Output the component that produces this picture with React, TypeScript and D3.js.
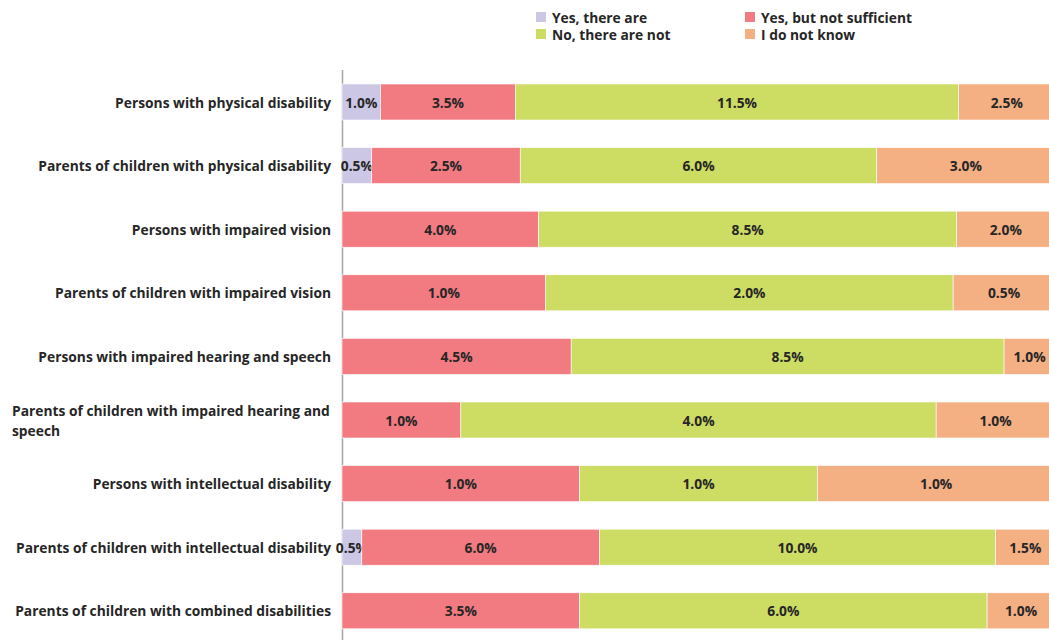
import React, { useEffect, useRef } from "react";
import * as d3 from "d3";

const categories = [
  "Persons with physical disability",
  "Parents of children with physical disability",
  "Persons with impaired vision",
  "Parents of children with impaired vision",
  "Persons with impaired hearing and speech",
  "Parents of children with impaired hearing and speech",
  "Persons with intellectual disability",
  "Parents of children with intellectual disability",
  "Parents of children with combined disabilities",
];

const seriesNames = ["Yes, there are", "Yes, but not sufficient", "No, there are not", "I do not know"];
const colors = ["#cbc7e4", "#f27b82", "#cddc63", "#f4b083"];

const yesThereAre = [1.0, 0.5, 0, 0, 0, 0, 0, 0.5, 0];
const yesNotSufficient = [3.5, 2.5, 4.0, 1.0, 4.5, 1.0, 1.0, 6.0, 3.5];
const noThereAreNot = [11.5, 6.0, 8.5, 2.0, 8.5, 4.0, 1.0, 10.0, 6.0];
const doNotKnow = [2.5, 3.0, 2.0, 0.5, 1.0, 1.0, 1.0, 1.5, 1.0];

const W = 1049;
const H = 640;
const FONT = "'Open Sans', sans-serif";
const FS = 13.8;

export default function App() {
  const ref = useRef<SVGSVGElement>(null);

  useEffect(() => {
    const svg = d3.select(ref.current);
    svg.selectAll("*").remove();

    const series = [yesThereAre, yesNotSufficient, noThereAreNot, doNotKnow];
    const rows = categories.map((c, i) => {
      const vals = series.map((s) => s[i]);
      const total = d3.sum(vals);
      return { c, vals, total };
    });

    const x = d3.scaleLinear().domain([0, 1]).range([342, 1055]);
    const y = d3.scaleBand().domain(categories).range([70.2, 642.6]).paddingInner(0.434).paddingOuter(0.217);

    // axis line
    svg.append("line").attr("x1", 342.5).attr("x2", 342.5).attr("y1", 70).attr("y2", H)
      .attr("stroke", "#a6a6a6").attr("stroke-width", 1.5);

    const g = svg.append("g");
    rows.forEach((r) => {
      let cum = 0;
      r.vals.forEach((v, k) => {
        if (v <= 0) return;
        const x0 = x(cum / r.total);
        cum += v;
        const x1 = x(cum / r.total);
        g.append("rect")
          .attr("x", x0).attr("y", y(r.c)!)
          .attr("width", x1 - x0).attr("height", y.bandwidth())
          .attr("fill", colors[k]).attr("stroke", "#fff").attr("stroke-width", 0.6);
        g.append("text")
          .attr("x", (x0 + x1) / 2).attr("y", y(r.c)! + y.bandwidth() / 2)
          .attr("text-anchor", "middle").attr("dominant-baseline", "central")
          .attr("font-family", FONT).attr("font-weight", "bold").attr("font-size", FS)
          .attr("fill", "#262626")
          .text(v.toFixed(1) + "%");
      });
    });

    // category labels
    const maxW = 325;
    categories.forEach((c) => {
      const cy = y(c)! + y.bandwidth() / 2;
      const t = svg.append("text")
        .attr("font-family", FONT).attr("font-weight", "bold").attr("font-size", FS)
        .attr("fill", "#262626");
      t.text(c).attr("x", 331).attr("y", cy).attr("text-anchor", "end").attr("dominant-baseline", "central");
      const node = t.node() as SVGTextElement;
      if (node.getComputedTextLength() > maxW) {
        t.text(null).attr("text-anchor", "start");
        const words = c.split(" ");
        const lines: string[] = [];
        let line: string[] = [];
        const probe = svg.append("text").attr("font-family", FONT).attr("font-weight", "bold").attr("font-size", FS);
        words.forEach((w) => {
          const test = [...line, w].join(" ");
          probe.text(test);
          if ((probe.node() as SVGTextElement).getComputedTextLength() > maxW && line.length) {
            lines.push(line.join(" "));
            line = [w];
          } else line.push(w);
        });
        lines.push(line.join(" "));
        probe.remove();
        lines.forEach((l, i) => {
          t.append("tspan").attr("x", 12).attr("y", cy + (i - (lines.length - 1) / 2) * 20).text(l);
        });
      }
    });

    // legend
    const legendPos = [[536, 17], [745, 17], [536, 34], [745, 34]];
    seriesNames.forEach((n, k) => {
      const [lx, ly] = legendPos[k];
      svg.append("rect").attr("x", lx).attr("y", ly - 5).attr("width", 10).attr("height", 10).attr("fill", colors[k]);
      svg.append("text").attr("x", lx + 16).attr("y", ly)
        .attr("dominant-baseline", "central")
        .attr("font-family", FONT).attr("font-weight", "bold").attr("font-size", FS)
        .attr("fill", "#262626").text(n);
    });
  }, []);

  return (
    <svg ref={ref} width={W} height={H} style={{ position: "absolute", left: 0, top: 0, background: "#fff" }} />
  );
}
